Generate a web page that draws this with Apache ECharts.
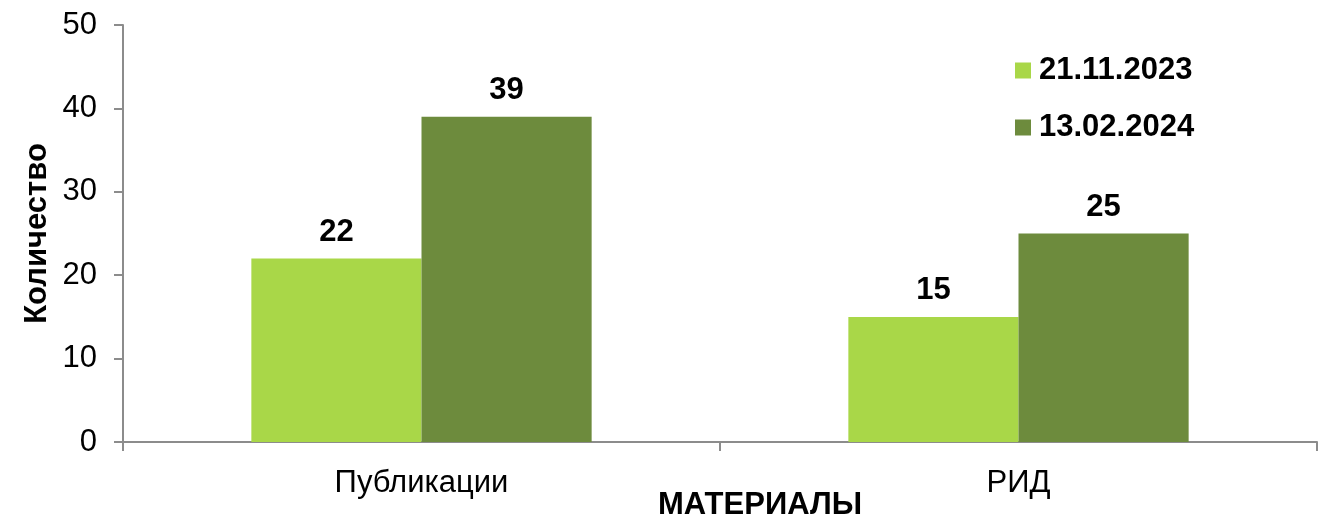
<!DOCTYPE html>
<html>
<head>
<meta charset="utf-8">
<script src="https://cdn.jsdelivr.net/npm/echarts@6/dist/echarts.min.js"></script>
<style>
html,body{margin:0;padding:0;background:#fff;}
#chart{width:1318px;height:522px;}
</style>
</head>
<body>
<div id="chart"></div>
<script>
const categories = ['Публикации', 'РИД'];
const seriesNames = ['21.11.2023', '13.02.2024'];
const values2023 = [22, 15];
const values2024 = [39, 25];
const seriesColors = ['#A9D748', '#6D8B3D'];

const chart = echarts.init(document.getElementById('chart'));
const font = 'Arial, "Liberation Sans", sans-serif';
const axisColor = '#8C8C8C';
const fs = 31;

function makeSeries(name, data, color) {
  return {
    name: name,
    type: 'bar',
    data: data,
    barWidth: '28.5%',
    barGap: '0%',
    itemStyle: { color: color },
    label: {
      show: true,
      position: 'top',
      distance: 11,
      color: '#000',
      fontFamily: font,
      fontWeight: 'bold',
      fontSize: fs
    }
  };
}

chart.setOption({
  animation: false,
  textStyle: { fontFamily: font },
  grid: { left: 123, right: 1, top: 25, bottom: 80, containLabel: false, outerBoundsMode: 'none' },
  legend: {
    orient: 'vertical',
    left: 1010,
    top: 50,
    itemWidth: 16,
    itemHeight: 16,
    itemGap: 26,
    icon: 'rect',
    textStyle: { fontFamily: font, fontSize: fs, fontWeight: 'bold', color: '#000', padding: [0, 0, 0, 3] },
    data: seriesNames
  },
  xAxis: {
    type: 'category',
    data: categories,
    name: 'МАТЕРИАЛЫ',
    nameLocation: 'middle',
    nameGap: 48,
    nameMoveOverlap: false,
    nameTextStyle: { fontFamily: font, fontSize: fs, fontWeight: 'bold', color: '#000', padding: [0, 0, 0, 80] },
    axisLine: { lineStyle: { color: axisColor, width: 2 } },
    axisTick: { show: true, length: 9, lineStyle: { color: axisColor, width: 2 } },
    axisLabel: { color: '#000', fontFamily: font, fontSize: fs, margin: 26 }
  },
  yAxis: {
    type: 'value',
    min: 0,
    max: 50,
    interval: 10,
    name: 'Количество',
    nameLocation: 'middle',
    nameGap: 70,
    nameMoveOverlap: false,
    nameTextStyle: { fontFamily: font, fontSize: fs, fontWeight: 'bold', color: '#000' },
    axisLine: { show: true, lineStyle: { color: axisColor, width: 2 } },
    axisTick: { show: true, length: 9, lineStyle: { color: axisColor, width: 2 } },
    splitLine: { show: false },
    axisLabel: { color: '#000', fontFamily: font, fontSize: fs, margin: 26 }
  },
  series: [
    makeSeries(seriesNames[0], values2023, seriesColors[0]),
    makeSeries(seriesNames[1], values2024, seriesColors[1])
  ]
});
</script>
</body>
</html>
